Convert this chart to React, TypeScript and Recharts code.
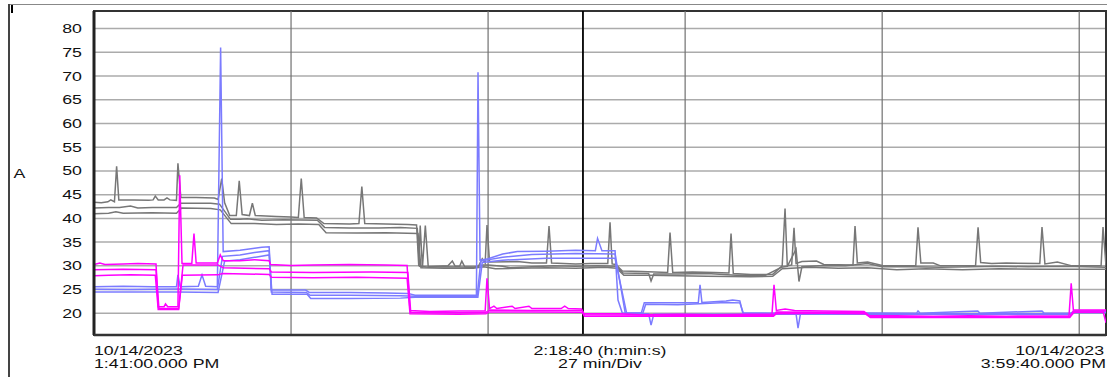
import React from 'react';
import { LineChart, Line, XAxis, YAxis, CartesianGrid, ReferenceLine, ReferenceArea } from 'recharts';

// [minutes from 1:41:00 PM, amps]
type Pt = [number, number];

const gray1: Pt[] = [
  [0, 43.4], [1.0, 43.3], [1.9, 43.5], [2.3, 43.9], [2.8, 43.5], [3.1, 51.0], [3.4, 43.9], [5.5, 43.9], [7.5, 43.8],
  [8.1, 43.9], [8.4, 44.7], [8.8, 43.9], [9.6, 43.9], [10.0, 44.3], [10.4, 43.9], [11.3, 43.8], [11.5, 51.6], [11.9, 44.4],
  [14, 44.4], [16.5, 44.3], [17.0, 44.0], [17.5, 48.4], [17.9, 43.3], [18.6, 40.6], [19.5, 40.6], [19.9, 47.9], [20.3, 40.8],
  [21.3, 40.6], [21.7, 43.2], [22.1, 40.6], [25, 40.4], [27, 40.3], [28.0, 40.2], [28.4, 48.4], [28.8, 40.2], [30.5, 40.1],
  [31.5, 38.9], [35, 38.8], [36.3, 38.9], [36.7, 46.7], [37.1, 38.9], [40, 38.8], [43, 38.7], [44.2, 38.6], [44.5, 30.0],
  [44.7, 38.5], [45.0, 29.6], [45.4, 38.5], [45.8, 29.8], [48.5, 30.0], [49.1, 31.0], [49.5, 29.9], [50.1, 29.9], [50.4, 31.0],
  [50.8, 29.8], [52.6, 29.7], [53.2, 31.5], [53.6, 30.6], [53.85, 38.6], [54.2, 30.8], [58, 30.9], [60, 30.6], [62.0, 30.6],
  [62.35, 38.4], [62.7, 30.6], [66, 30.4], [68, 30.5], [70.4, 30.5], [70.71, 39.2], [71.0, 30.4], [71.5, 30.3], [72.4, 28.9],
  [75, 28.8], [78.6, 28.6], [78.93, 37.0], [79.3, 28.6], [82, 28.7], [85, 28.6], [87.0, 28.5], [87.29, 36.8], [87.6, 28.4],
  [90, 28.2], [93, 28.2], [94.0, 29.6], [94.3, 30.0], [94.69, 42.1], [95.0, 30.0], [95.6, 30.2], [95.92, 38.0], [96.2, 30.5],
  [97, 30.9], [99, 31.0], [100, 30.3], [104.0, 30.2], [104.28, 38.4], [104.6, 30.6], [106, 30.8], [108, 30.1], [112.6, 30.0],
  [112.91, 38.1], [113.3, 30.6], [115, 30.6], [116, 30.0], [120.8, 30.1], [121.14, 38.1], [121.5, 30.7], [123, 30.5],
  [125, 30.6], [129.6, 30.5], [129.9, 38.2], [130.3, 30.4], [132, 30.8], [134, 30.0], [138.0, 30.0], [138.26, 38.2], [138.67, 30.0],
];

const gray2: Pt[] = [
  [0, 42.2], [2, 42.3], [3.5, 42.3], [5, 42.6], [6, 42.2], [8, 42.3], [11.3, 42.3], [11.9, 43.2], [16, 43.2], [17.2, 43.0],
  [18.7, 39.8], [20, 39.8], [21, 39.9], [23, 39.6], [26, 39.7], [30.6, 39.6], [31.6, 38.1], [35, 38.0], [39, 38.0], [42, 38.1],
  [44.3, 37.9], [44.6, 29.9], [46, 29.7], [48, 29.8], [52, 29.7], [53.3, 30.2], [54, 30.2], [56, 29.9], [57, 29.6], [60, 29.8],
  [63, 30.0], [66, 29.9], [69, 30.0], [71.5, 29.9], [72.5, 28.5], [76.0, 28.4], [76.33, 26.8], [76.7, 28.3], [80, 28.3],
  [84, 28.4], [88, 28.0], [92, 28.0], [94.2, 29.7], [95, 29.9], [96.2, 33.5], [96.6, 26.7], [97, 29.8], [100, 30.1],
  [103, 30.0], [106, 30.5], [108, 29.8], [112, 29.8], [116, 29.7], [120, 29.8], [124, 29.9], [128, 29.8], [133, 29.9], [138.67, 29.7],
];

const gray3: Pt[] = [
  [0, 41.0], [2, 41.1], [3, 41.4], [4, 41.1], [8, 41.2], [11.3, 41.1], [12.0, 42.2], [16, 42.1], [17.3, 41.8], [18.8, 38.9],
  [22, 38.9], [25, 38.7], [28, 38.8], [30.8, 38.7], [31.8, 37.0], [36, 36.9], [40, 37.0], [44.4, 36.8], [44.8, 29.6],
  [48, 29.5], [52, 29.5], [53.4, 29.8], [55, 29.4], [58, 29.5], [62, 29.6], [66, 29.5], [70, 29.7], [71.6, 29.5], [72.6, 28.0],
  [76, 28.0], [80, 27.9], [84, 27.8], [90, 27.7], [93, 27.8], [94.3, 29.4], [98, 29.7], [102, 29.5], [106, 29.6], [110, 29.2],
  [114, 29.4], [119, 29.2], [124, 29.4], [130, 29.3], [138.67, 29.3],
];

const blue1: Pt[] = [
  [0, 25.6], [4, 25.7], [8, 25.6], [11.3, 25.6], [11.5, 28.1], [11.8, 25.6], [14.3, 25.7], [14.8, 28.1], [15.3, 25.7],
  [16.9, 25.6], [17.35, 76.0], [17.7, 33.0], [20, 33.3], [22, 33.7], [23, 33.9], [24.0, 34.0], [24.3, 24.9], [27, 24.9],
  [29.0, 24.9], [29.5, 24.4], [35, 24.4], [40, 24.3], [43, 24.2], [44, 23.8], [48, 23.8], [52.4, 23.8], [52.62, 70.8],
  [52.9, 31.2], [54, 31.5], [56, 32.5], [58, 33.0], [62, 33.1], [66, 33.3], [68.7, 33.2], [69.0, 35.8], [69.6, 33.2],
  [71.4, 33.2], [71.8, 22.8], [72.4, 20.0], [75.0, 20.1], [75.4, 22.2], [80, 22.2], [82.8, 22.2], [83.04, 26.0], [83.3, 22.3],
  [86.6, 22.6], [87.5, 22.8], [88.5, 22.6], [88.9, 20.1], [95, 20.0], [100, 20.1], [112.7, 20.0], [112.91, 20.5], [113.2, 20.0],
  [121.1, 20.5], [121.4, 20.0], [129.9, 20.5], [130.2, 20.0], [133.8, 20.0], [134.2, 20.4], [138.67, 20.5],
];

const blue2: Pt[] = [
  [0, 25.05], [5, 25.0], [11.3, 25.1], [16.9, 25.0], [17.6, 32.0], [20, 32.3], [22, 32.8], [24.0, 33.2], [24.3, 24.5],
  [29.1, 24.4], [29.6, 23.8], [35, 23.8], [42, 23.7], [44, 23.6], [52.5, 23.6], [53.0, 31.0], [56, 31.8], [60, 32.4],
  [66, 32.6], [71.4, 32.5], [72.8, 20.0], [75.2, 20.0], [75.6, 21.9], [80, 21.8], [86.6, 22.3], [88.5, 22.2], [89.0, 19.9],
  [96.2, 19.9], [96.47, 16.9], [96.8, 19.9], [110, 19.9], [120, 19.9], [133.8, 19.9], [134.3, 20.2], [138.67, 20.2],
];

const blue3: Pt[] = [
  [0, 24.5], [5, 24.5], [11.4, 24.5], [17.0, 24.4], [17.9, 31.0], [20, 31.3], [24.0, 32.3], [24.4, 24.0], [29.2, 24.0],
  [29.7, 23.1], [35, 23.1], [42, 23.2], [44, 23.4], [52.6, 23.4], [53.2, 30.7], [56, 31.2], [62, 31.6], [71.4, 31.6],
  [73.0, 19.9], [76.0, 19.9], [76.33, 17.5], [76.7, 19.8], [85, 19.8], [95, 19.8], [110, 19.8], [125, 19.8], [133.8, 19.8],
  [134.3, 20.1], [138.67, 20.1],
];

const magenta1: Pt[] = [
  [0, 30.3], [0.8, 30.6], [1.5, 30.3], [4, 30.4], [6, 30.5], [8.5, 30.4], [8.8, 21.4], [9.6, 21.4], [9.8, 22.0], [10.1, 21.4],
  [11.5, 21.4], [11.75, 49.1], [12.06, 30.5], [13.4, 30.5], [13.7, 36.8], [14.0, 30.6], [16.9, 30.6], [17.3, 32.3],
  [17.7, 31.1], [20, 31.1], [22, 31.3], [24, 31.1], [24.2, 30.3], [27, 30.1], [30, 30.2], [35, 30.3], [40, 30.2], [42.9, 30.1],
  [43.3, 20.6], [46, 20.4], [50, 20.5], [53.6, 20.5], [53.85, 27.4], [54.2, 21.0], [54.8, 21.5], [55.2, 21.0], [57.3, 21.5],
  [57.7, 21.0], [59.6, 21.5], [60, 21.0], [64, 21.0], [64.5, 21.5], [65, 21.0], [66.8, 20.9], [67.1, 19.9], [72, 19.9],
  [75, 19.7], [80, 19.8], [85, 19.7], [90, 19.8], [92.9, 19.8], [93.18, 26.0], [93.5, 20.6], [94.7, 20.9], [96, 20.6],
  [100, 20.5], [105.5, 20.4], [106.2, 19.5], [110, 19.5], [115, 19.4], [120, 19.5], [125, 19.4], [133.6, 19.5], [133.9, 26.3],
  [134.2, 20.7], [138.67, 20.7],
];

const magenta2: Pt[] = [
  [0, 29.2], [4, 29.3], [8.5, 29.2], [8.9, 21.0], [11.6, 21.0], [12.2, 30.2], [17, 30.2], [17.7, 29.6], [24, 29.4],
  [24.3, 28.7], [30, 28.6], [38, 28.7], [43.0, 28.6], [43.4, 20.2], [50, 20.1], [53.7, 20.2], [54.2, 20.7], [60, 20.6],
  [66.9, 20.6], [67.2, 19.7], [80, 19.6], [93.1, 19.6], [93.5, 20.3], [100, 20.2], [105.6, 20.2], [106.3, 19.3], [120, 19.3],
  [133.7, 19.3], [134.2, 20.5], [138.67, 20.5],
];

const magenta3: Pt[] = [
  [0, 27.9], [2, 28.0], [5, 28.1], [8.4, 28.0], [8.8, 20.8], [11.6, 20.8], [12.1, 28.0], [17, 28.1], [17.6, 28.4], [24, 28.2],
  [24.3, 27.6], [30, 27.5], [36, 27.6], [42.9, 27.4], [43.3, 19.9], [50, 19.8], [53.7, 19.9], [54.2, 20.3], [60, 20.3],
  [66.9, 20.2], [67.2, 19.4], [80, 19.4], [93.1, 19.4], [93.5, 19.9], [100, 20.0], [105.7, 19.9], [106.4, 19.1], [120, 19.1],
  [133.7, 19.1], [134.3, 20.2], [138.3, 20.2], [138.67, 18.0],
];

const yTicks = [20, 25, 30, 35, 40, 45, 50, 55, 60, 65, 70, 75, 80];
const divisions = [27, 54, 81, 108, 135]; // 27 min/Div
const cursorAt = 67;
const xTicks = [0, 69.33, 138.67];
const xLabels = [
  ['10/14/2023', '1:41:00.000 PM'],
  ['2:18:40 (h:min:s)', '27 min/Div'],
  ['10/14/2023', '3:59:40.000 PM'],
];

const GRAY = '#777777';
const BLUE = '#7b7bff';
const MAGENTA = '#ff00ff';

const series = [
  { key: 'g1', pts: gray1, color: GRAY },
  { key: 'g2', pts: gray2, color: GRAY },
  { key: 'g3', pts: gray3, color: GRAY },
  { key: 'b1', pts: blue1, color: BLUE },
  { key: 'b2', pts: blue2, color: BLUE },
  { key: 'b3', pts: blue3, color: BLUE },
  { key: 'm1', pts: magenta1, color: MAGENTA },
  { key: 'm2', pts: magenta2, color: MAGENTA },
  { key: 'm3', pts: magenta3, color: MAGENTA },
];

const toRows = (pts: Pt[]) => pts.map(([t, v]) => ({ t, v }));

const FONT = '"Liberation Sans", Arial, sans-serif';

// the source screenshot has horizontally stretched lettering
const StretchText = ({ x, y, anchor, children }: any) => (
  <text
    transform={`translate(${x},${y}) scale(1.42,1)`}
    textAnchor={anchor}
    fontFamily={FONT}
    fontSize={12.5}
    fill="#111"
  >
    {children}
  </text>
);

const XTick = (props: any) => {
  const { x, y, payload } = props;
  const i = xTicks.indexOf(payload.value);
  if (i < 0) return null;
  const anchor = i === 0 ? 'start' : i === 2 ? 'end' : 'middle';
  const dx = i === 2 ? -2 : 0;
  return (
    <g>
      <StretchText x={x + dx} y={y + 20} anchor={anchor}>{xLabels[i][0]}</StretchText>
      <StretchText x={x} y={y + 32.7} anchor={anchor}>{xLabels[i][1]}</StretchText>
    </g>
  );
};

const YTick = (props: any) => {
  const { x, y, payload } = props;
  return <StretchText x={x} y={y + 4.5} anchor="end">{payload.value}</StretchText>;
};

export default function App() {
  return (
    <div style={{ position: 'fixed', left: 0, top: 0, width: 1107, height: 377, background: '#fff' }}>
      <div style={{ position: 'absolute', left: 9, top: 4, width: 1098, height: 1, background: '#888' }} />
      <div style={{ position: 'absolute', left: 8, top: 4, width: 1.5, height: 373, background: '#444' }} />
      <div style={{ position: 'absolute', left: 11, top: 5, width: 1.5, height: 8, background: '#000' }} />
      <LineChart width={1107} height={377} margin={{ top: 11, right: 1, bottom: 0, left: 0 }}>
        <CartesianGrid vertical={false} stroke="#ababab" strokeWidth={1.5} />
        <XAxis
          type="number"
          dataKey="t"
          domain={[0, 138.67]}
          ticks={xTicks}
          interval={0}
          allowDataOverflow
          axisLine={false}
          tickLine={false}
          tickSize={0}
          tickMargin={0}
          height={42}
          tick={<XTick />}
        />
        <YAxis
          type="number"
          domain={[15.43, 83.7]}
          ticks={yTicks}
          interval={0}
          allowDataOverflow
          axisLine={false}
          tickLine={false}
          tickSize={0}
          tickMargin={12}
          width={94}
          tick={<YTick />}
          label={(p: any) => (
            <StretchText x={(p.viewBox?.x ?? 0) + 19.5} y={178} anchor="middle">A</StretchText>
          )}
        />
        {divisions.map((d) => (
          <ReferenceLine key={d} x={d} stroke="#707070" strokeWidth={1.2} />
        ))}
        <ReferenceLine x={cursorAt} stroke="#000" strokeWidth={1.8} />
        {series.map((s) => (
          <Line
            key={s.key}
            data={toRows(s.pts)}
            dataKey="v"
            type="linear"
            stroke={s.color}
            strokeWidth={1.5}
            dot={false}
            activeDot={false}
            isAnimationActive={false}
          />
        ))}
        <ReferenceArea x1={0} x2={138.67} y1={15.43} y2={83.7} fill="none" stroke="#333" strokeWidth={2} />
        <ReferenceLine x={0} stroke="#222" strokeWidth={3} />
        <ReferenceLine y={15.43} stroke="#333" strokeWidth={2.5} />
      </LineChart>
    </div>
  );
}
